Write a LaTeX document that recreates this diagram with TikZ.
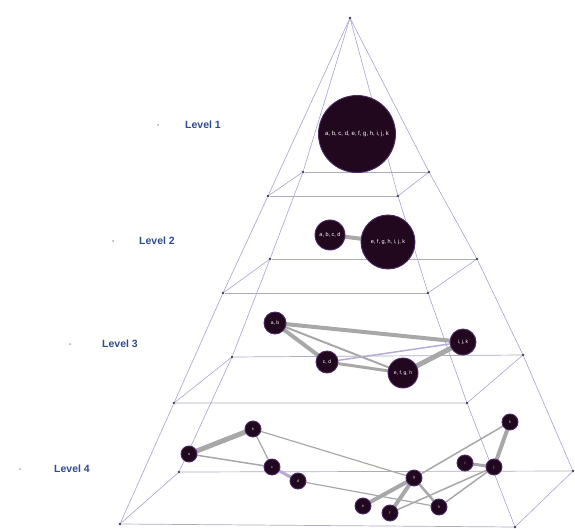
\documentclass[tikz,border=0pt]{standalone}
\usepackage{fontspec}
\setmainfont{Liberation Sans}
\usetikzlibrary{backgrounds}
\definecolor{pyrc}{HTML}{A4A4CC}
\definecolor{slicec}{HTML}{ABABC0}
\definecolor{dotc}{HTML}{3A3A55}
\definecolor{nodec}{HTML}{22081F}
\definecolor{rimc}{HTML}{4A2A66}
\definecolor{edgec}{HTML}{A8A8A8}
\definecolor{edgel}{HTML}{B4ACD4}
\definecolor{lvlc}{HTML}{2E4C8E}
\begin{document}
\begin{tikzpicture}[x=1pt,y=-1pt,
  pyr/.style={draw=pyrc, line width=0.6pt},
  slice/.style={draw=slicec, line width=0.7pt},
  corner/.style={circle, fill=dotc, inner sep=0pt, minimum size=2.6pt},
  gnode/.style={circle, fill=nodec, draw=rimc, line width=0.9pt, inner sep=0pt, text=white},
  small/.style={gnode, minimum size=16pt, font=\fontsize{4}{4}\selectfont, text=gray!50},
  gedge/.style={draw=edgec, line cap=round},
  lvl/.style={font=\bfseries\fontsize{10.5}{12}\selectfont, text=lvlc, anchor=west, inner sep=0pt},
  ldot/.style={circle, fill=gray!70, inner sep=0pt, minimum size=2pt}
]
\useasboundingbox (0,0) rectangle (575,529);
% pyramid corners
\node[corner] (ap) at (350,18) {};
\node[corner] (s1bl) at (303,172) {};
\node[corner] (s1br) at (429,172) {};
\node[corner] (s1fl) at (268,196) {};
\node[corner] (s1fr) at (398,196) {};
\node[corner] (s2bl) at (270,259) {};
\node[corner] (s2br) at (477,259) {};
\node[corner] (s2fl) at (223,293) {};
\node[corner] (s2fr) at (428,293) {};
\node[corner] (s3bl) at (232,357) {};
\node[corner] (s3br) at (523,355) {};
\node[corner] (s3fl) at (174,403) {};
\node[corner] (s3fr) at (467,403) {};
\node[corner] (s4bl) at (179,472) {};
\node[corner] (s4br) at (573,471) {};
\node[corner] (s4fl) at (120,524) {};
\node[corner] (s4fr) at (515,527) {};
% level labels
\node[ldot] (d1) at (158,125) {};
\node[lvl] (l1) at (185,125) {Level 1};
\node[ldot] (d2) at (113,241) {};
\node[lvl] (l2) at (139,241) {Level 2};
\node[ldot] (d3) at (70,344) {};
\node[lvl] (l3) at (102,344) {Level 3};
\node[ldot] (d4) at (20,469) {};
\node[lvl] (l4) at (54,469) {Level 4};
% level 1
\node[gnode, minimum size=77pt, font=\fontsize{6}{6}\selectfont] (A) at (357,134) {a, b, c, d, e, f, g, h, i, j, k};
% level 2
\node[gnode, minimum size=30pt, font=\fontsize{5.5}{6}\selectfont] (B1) at (330,235) {a, b, c, d};
\node[gnode, minimum size=54pt, font=\fontsize{5.5}{6}\selectfont] (B2) at (388,242) {e, f, g, h, i, j, k};
% level 3
\node[gnode, minimum size=22pt, font=\fontsize{5}{5}\selectfont] (C1) at (275,323) {a, b};
\node[gnode, minimum size=22pt, font=\fontsize{5}{5}\selectfont] (C2) at (327,362) {c, d};
\node[gnode, minimum size=30pt, font=\fontsize{5}{5}\selectfont] (C3) at (403,373) {e, f, g, h};
\node[gnode, minimum size=26pt, font=\fontsize{5}{5}\selectfont] (C4) at (463,342) {i, j, k};
% level 4
\node[small] (a) at (189,454) {a};
\node[small] (b) at (253,429) {b};
\node[small] (c) at (272,467) {c};
\node[small] (d) at (298,481) {d};
\node[small] (e) at (363,506) {e};
\node[small] (f) at (390,513) {f};
\node[small] (g) at (414,478) {g};
\node[small] (h) at (439,507) {h};
\node[small] (i) at (465,463) {i};
\node[small] (j) at (494,467) {j};
\node[small] (k) at (510,422) {k};
\begin{pgfonlayer}{background}
  \path[pyr] (ap) -- (s1bl) -- (s2bl) -- (s3bl) -- (s4bl);
  \path[pyr] (ap) -- (s1br) -- (s2br) -- (s3br) -- (s4br);
  \path[pyr] (ap) -- (s1fl) -- (s2fl) -- (s3fl) -- (s4fl);
  \path[pyr] (ap) -- (s1fr) -- (s2fr) -- (s3fr) -- (s4fr);
  \path[slice] (s1bl) -- (s1br) (s1fr) -- (s1fl);
  \path[pyr] (s1br) -- (s1fr) (s1fl) -- (s1bl);
  \path[slice] (s2bl) -- (s2br) (s2fr) -- (s2fl);
  \path[pyr] (s2br) -- (s2fr) (s2fl) -- (s2bl);
  \path[slice] (s3bl) -- (s3br) (s3fr) -- (s3fl);
  \path[pyr] (s3br) -- (s3fr) (s3fl) -- (s3bl);
  \path[slice] (s4bl) -- (s4br) (s4fr) -- (s4fl);
  \path[pyr] (s4br) -- (s4fr) (s4fl) -- (s4bl);
  % level 2 edges
  \path[gedge, line width=4pt] (B1) -- (B2);
  % level 3 edges
  \path[gedge, line width=4pt] (C1) -- (C4);
  \path[gedge, line width=4pt] (C1) -- (C2);
  \path[gedge, line width=2pt] (C1) -- (C3);
  \path[gedge, line width=3pt] (C2) -- (C3);
  \path[gedge, draw=edgel, line width=1.5pt] (C2) -- (C4);
  \path[gedge, line width=5pt] (C3) -- (C4);
  % level 4 edges
  \path[gedge, line width=5pt] (a) -- (b);
  \path[gedge, line width=1.5pt] (a) -- (c);
  \path[gedge, line width=1.2pt] (b) -- (c);
  \path[gedge, line width=1.2pt] (b) -- (g);
  \path[gedge, draw=edgel, line width=3pt] (c) -- (d);
  \path[gedge, line width=1.2pt] (d) -- (h);
  \path[gedge, line width=1.5pt] (g) -- (k);
  \path[gedge, line width=4pt] (j) -- (k);
  \path[gedge, line width=3pt] (i) -- (j);
  \path[gedge, line width=4pt] (g) -- (e);
  \path[gedge, line width=4pt] (g) -- (f);
  \path[gedge, line width=2.5pt] (g) -- (h);
  \path[gedge, line width=1.5pt] (j) -- (f);
  \path[gedge, line width=1.5pt] (j) -- (h);
\end{pgfonlayer}
\end{tikzpicture}
\end{document}
